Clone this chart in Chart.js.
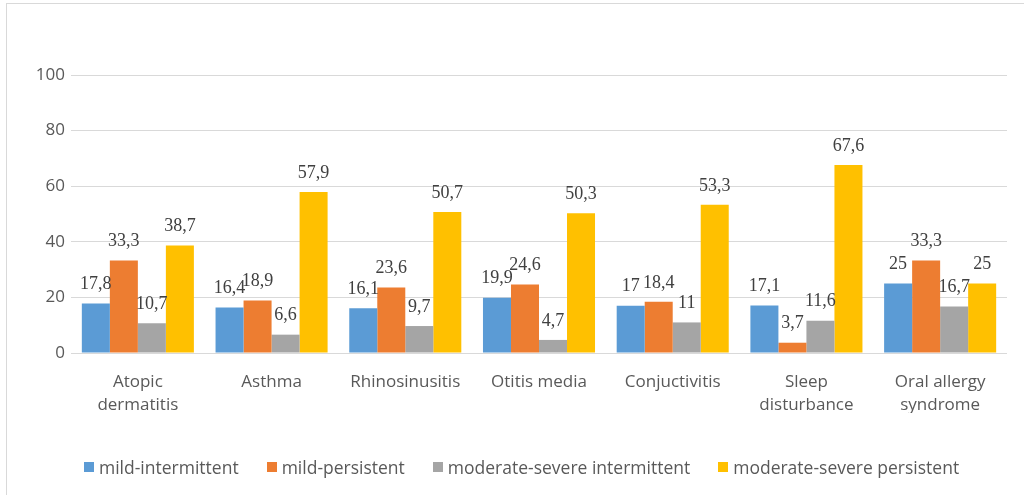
<!DOCTYPE html>
<html>
<head>
<meta charset="utf-8">
<script src="https://cdn.jsdelivr.net/npm/chart.js@4.4.1/dist/chart.umd.min.js"></script>
<style>
  html, body { margin: 0; padding: 0; background: #fff; overflow: hidden; }
  #frame { position: absolute; left: 6px; top: 3px; width: 1040px; height: 520px; border: 1px solid #d9d9d9; }
  #wrap { position: absolute; left: 0; top: 0; width: 1024px; height: 495px; }
  #legend { position: absolute; left: 84px; top: 455px; display: flex; align-items: center;
            font-family: "Open Sans", sans-serif; font-size: 17.5px; color: #595959; white-space: nowrap; }
  #legend .item { display: flex; align-items: center; margin-right: 28px; }
  #legend .box { width: 10px; height: 10px; margin-right: 5px; }
</style>
</head>
<body>
<div id="frame"></div>
<div id="wrap"><canvas id="c" width="1024" height="495"></canvas></div>
<div id="legend"></div>
<script>
// Allergic comorbidities by asthma severity group (%)
const categories = [
  ["Atopic", "dermatitis"], "Asthma", "Rhinosinusitis", "Otitis media",
  "Conjuctivitis", ["Sleep", "disturbance"], ["Oral allergy", "syndrome"]
];
const seriesNames = [
  "mild-intermittent", "mild-persistent",
  "moderate-severe intermittent", "moderate-severe persistent"
];
const mildIntermittent        = [17.8, 16.4, 16.1, 19.9, 17, 17.1, 25];
const mildPersistent          = [33.3, 18.9, 23.6, 24.6, 18.4, 3.7, 33.3];
const modSevereIntermittent   = [10.7, 6.6, 9.7, 4.7, 11, 11.6, 16.7];
const modSeverePersistent     = [38.7, 57.9, 50.7, 50.3, 53.3, 67.6, 25];
const yTicks = [0, 20, 40, 60, 80, 100];

const colors = ["#5B9BD5", "#ED7D31", "#A5A5A5", "#FFC000"];
const values = [mildIntermittent, mildPersistent, modSevereIntermittent, modSeverePersistent];

// value labels above each bar, decimal comma
const barValueLabels = {
  id: "barValueLabels",
  afterDatasetsDraw(chart) {
    const ctx = chart.ctx;
    ctx.save();
    ctx.font = '18px "Liberation Serif", "Times New Roman", serif';
    ctx.fillStyle = "#404040";
    ctx.textAlign = "center";
    ctx.textBaseline = "bottom";
    chart.data.datasets.forEach((ds, i) => {
      chart.getDatasetMeta(i).data.forEach((bar, j) => {
        const txt = String(ds.data[j]).replace(".", ",");
        ctx.fillText(txt, bar.x, bar.y - 10);
      });
    });
    ctx.restore();
  }
};

const chart = new Chart(document.getElementById("c"), {
  type: "bar",
  data: {
    labels: categories,
    datasets: seriesNames.map((name, i) => ({
      label: name,
      data: values[i],
      backgroundColor: colors[i],
      borderWidth: 0,
      categoryPercentage: 0.838,
      barPercentage: 1.0
    }))
  },
  plugins: [barValueLabels],
  options: {
    responsive: false,
    animation: false,
    layout: { padding: { top: 75, right: 17, bottom: 82, left: 0 } },
    plugins: {
      legend: { display: false },
      tooltip: { enabled: false }
    },
    scales: {
      x: {
        clip: false,
        grid: { display: false },
        border: { display: false },
        ticks: {
          color: "#595959",
          font: { family: "Open Sans", size: 17, lineHeight: 1.35 },
          padding: 10,
          maxRotation: 0,
          autoSkip: false
        },
        afterFit: s => { s.height = 60; }
      },
      y: {
        min: 0,
        max: 100,
        afterBuildTicks: s => { s.ticks = yTicks.map(v => ({ value: v })); },
        grid: { color: "#d9d9d9", lineWidth: 1, drawTicks: false },
        border: { display: false },
        ticks: {
          color: "#595959",
          font: { family: "Open Sans", size: 17 },
          padding: 6
        },
        afterFit: s => { s.width = 71; }
      }
    }
  }
});

// legend built from the same series definitions
const legend = document.getElementById("legend");
seriesNames.forEach((name, i) => {
  const item = document.createElement("div");
  item.className = "item";
  const box = document.createElement("span");
  box.className = "box";
  box.style.background = colors[i];
  const label = document.createElement("span");
  label.textContent = name;
  item.appendChild(box);
  item.appendChild(label);
  legend.appendChild(item);
});
</script>
</body>
</html>
